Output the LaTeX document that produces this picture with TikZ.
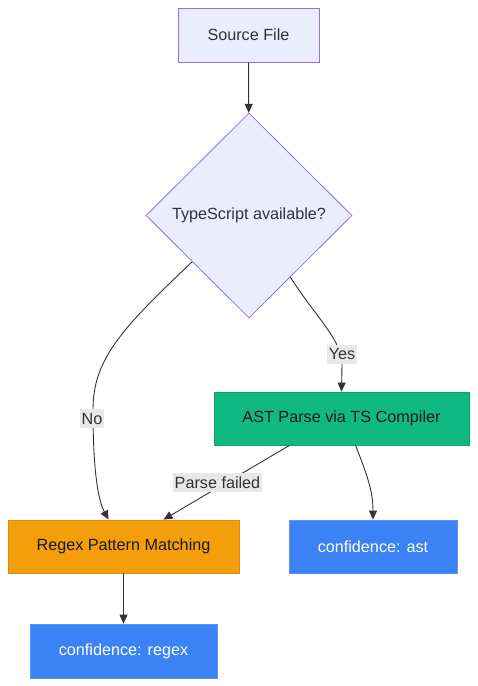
\documentclass[tikz,border=0pt]{standalone}
\usepackage{fontspec}
\setmainfont{Liberation Sans}
\usetikzlibrary{shapes.geometric,arrows.meta,calc}
\definecolor{lav}{HTML}{ECECFF}
\definecolor{lavb}{HTML}{9370DB}
\definecolor{grn}{HTML}{10B981}
\definecolor{grnb}{HTML}{0EA472}
\definecolor{org}{HTML}{F59E0B}
\definecolor{orgb}{HTML}{D98A0A}
\definecolor{blu}{HTML}{3B82F6}
\definecolor{blub}{HTML}{5A95F5}
\definecolor{ink}{HTML}{333333}
\definecolor{lbl}{HTML}{E8E8E8}
\tikzset{
  box/.style={draw, line width=0.8pt, rectangle, inner sep=0pt, font=\fontsize{16.2}{19}\selectfont},
  lavbox/.style={box, fill=lav, draw=lavb, text=ink},
  grnbox/.style={box, fill=grn, draw=grnb, text=black!90},
  orgbox/.style={box, fill=org, draw=orgb, text=black!90},
  blubox/.style={box, fill=blu, draw=blub, text=white},
  decision/.style={diamond, draw=lavb, fill=lav, line width=0.8pt, inner sep=0pt, text=ink, font=\fontsize{16.2}{19}\selectfont},
  edge/.style={draw=ink, line width=0.9pt, -{Triangle[length=9pt,width=8pt]}},
  elabel/.style={fill=lbl, text=ink, inner xsep=2pt, inner ysep=3.5pt, font=\fontsize{16.2}{19}\selectfont}
}
\begin{document}
\begin{tikzpicture}[x=1pt,y=-1pt]
\useasboundingbox (0,0) rectangle (478,686);
\node[lavbox, minimum width=141pt, minimum height=54pt] (src) at (248.5,35) {Source File};
\node[decision, minimum width=206pt, minimum height=205pt] (d) at (249,215.5) {TypeScript available?};
\node[grnbox, minimum width=255pt, minimum height=53pt] (a) at (341.5,418.5) {AST Parse via TS Compiler};
\node[orgbox, minimum width=231pt, minimum height=53pt] (r) at (123.5,546.5) {Regex Pattern Matching};
\node[blubox, minimum width=168pt, minimum height=53pt] (ca) at (373,546.5) {confidence: ast};
\node[blubox, minimum width=187pt, minimum height=54pt] (cr) at (123.5,651) {confidence: regex};

\draw[edge] (src) -- (d);
\coordinate (dl) at ($(d.west)!0.45!(d.south)$);
\coordinate (dr) at ($(d.east)!0.6!(d.south)$);
\coordinate (rn) at ([xshift=-15pt]r.north);
\coordinate (rn2) at ([xshift=40pt]r.north);
\coordinate (as1) at ([xshift=-52pt]a.south);
\coordinate (as2) at ([xshift=14pt]a.south);
\draw[edge] (dl) .. controls (120,330) and (93,360) .. (93,410) .. controls (93,470) and (98,500) .. (rn);
\node[elabel] (lno) at (92,418.5) {No};
\draw[edge] (dr) .. controls (318,320) and (342,340) .. (342,365) -- (a.north);
\node[elabel] (lyes) at (342,354.5) {Yes};
\draw[edge] (as1) -- (rn2);
\node[elabel] (lpf) at (217.5,482.5) {Parse failed};
\draw[edge] (as2) .. controls (366,472) and (373,490) .. (ca.north);
\draw[edge] (r) -- (cr);
\end{tikzpicture}
\end{document}
